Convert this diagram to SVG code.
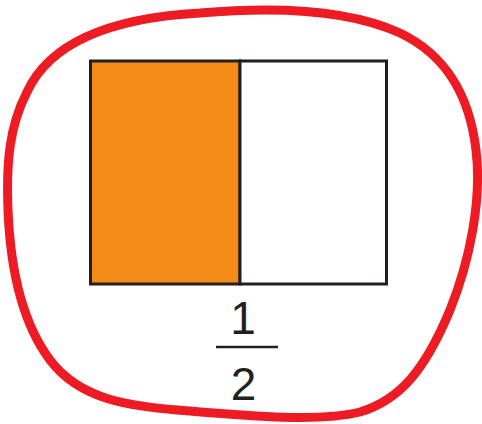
<svg xmlns="http://www.w3.org/2000/svg" width="482" height="424" viewBox="0 0 482 424">
<style>
.loop{fill:none;stroke:#ED1C24;stroke-width:9;stroke-linecap:round;stroke-linejoin:round}
.edge{stroke:#231F20;stroke-width:3}
.num{font-family:"Liberation Sans",Arial,sans-serif;font-size:46px;fill:#231F20;text-anchor:middle}
</style>
<rect width="482" height="424" fill="#fff"/>
<g id="loop">
<path class="loop" d="M 27,92 C 50,42 110,18 200,13 C 280,6 350,10 400,33 C 450,57 470,100 476,150 C 482,200 470,260 450,310 C 425,370 400,400 360,412 C 320,422 250,416 190,411 C 130,407 80,400 50,360 C 20,320 10,260 8,210 C 6,160 10,125 27,92 Z"/>
</g>
<g id="shape">
<rect x="90.5" y="61" width="149.5" height="223" fill="#F48A17" class="edge"/>
<rect x="240" y="61" width="146.5" height="223" fill="#fff" class="edge"/>
</g>
<g id="fraction">
<text class="num" x="243" y="334">1</text>
<line x1="216" y1="347" x2="278" y2="347" stroke="#231F20" stroke-width="2.7"/>
<text class="num" x="243.5" y="400">2</text>
</g>
</svg>
